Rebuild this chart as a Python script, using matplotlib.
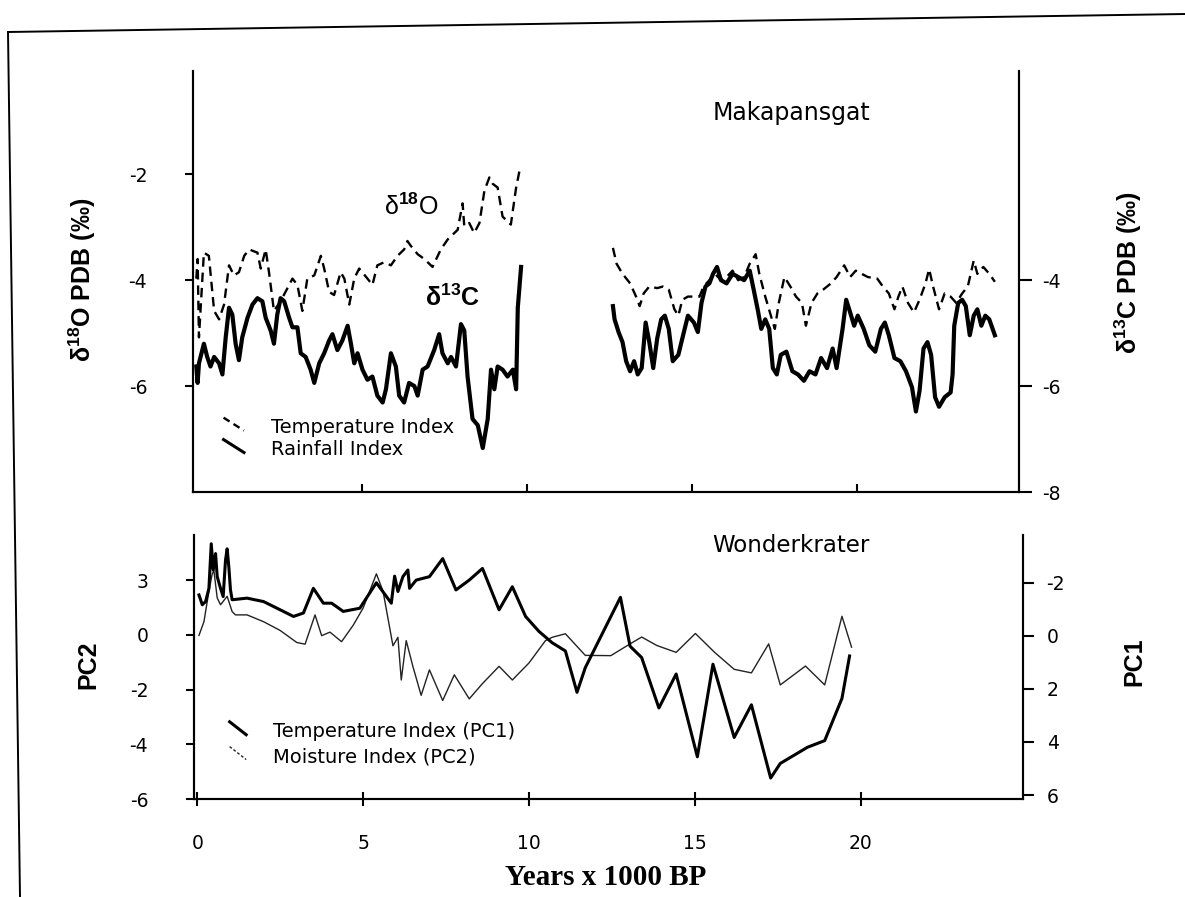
import matplotlib
matplotlib.use('Agg')
import matplotlib.pyplot as plt
from matplotlib.lines import Line2D
from matplotlib.legend_handler import HandlerLine2D

plt.rcParams['axes.unicode_minus'] = False
plt.rcParams['mathtext.fontset'] = 'custom'
plt.rcParams['mathtext.rm'] = 'Liberation Sans'
plt.rcParams['mathtext.bf'] = 'Liberation Sans:bold'
plt.rcParams['font.family'] = 'Liberation Sans'

# Makapansgat, years x 1000 BP and per mil PDB
d18o_left_x = [0.0, 0.04, 0.08, 0.23, 0.38, 0.54, 0.69, 0.84, 0.99, 1.14,
               1.29, 1.45, 1.60, 1.85, 1.95, 2.10, 2.20, 2.35, 2.55, 2.91,
               3.06, 3.21, 3.36, 3.57, 3.77, 3.87, 4.02, 4.17, 4.37, 4.48,
               4.63, 4.78, 4.93, 5.18, 5.33, 5.48, 5.69, 5.89, 6.09, 6.29,
               6.39, 6.49, 6.70, 6.90, 7.15, 7.40, 7.61, 7.91, 8.06, 8.11,
               8.26, 8.41, 8.57, 8.72, 8.87, 8.97, 9.12, 9.27, 9.52, 9.68,
               9.78]
d18o_left = [-3.97, -3.60, -5.08, -3.48, -3.54, -4.58, -4.74, -4.46, -3.72, -3.91,
             -3.85, -3.54, -3.42, -3.48, -3.78, -3.42, -3.85, -4.58, -4.40, -3.97,
             -4.09, -4.58, -3.97, -3.91, -3.54, -3.78, -4.22, -4.28, -3.85, -3.97,
             -4.46, -3.97, -3.78, -3.97, -4.09, -3.72, -3.66, -3.72, -3.54, -3.42,
             -3.26, -3.35, -3.51, -3.60, -3.75, -3.42, -3.23, -3.05, -2.55, -2.98,
             -2.92, -3.11, -2.92, -2.31, -2.06, -2.18, -2.25, -2.80, -2.95, -2.25,
             -1.94]

d13c_left_x = [0.0, 0.04, 0.08, 0.23, 0.33, 0.43, 0.54, 0.69, 0.79, 0.89,
               0.99, 1.09, 1.19, 1.29, 1.39, 1.55, 1.70, 1.85, 2.00, 2.10,
               2.25, 2.35, 2.45, 2.55, 2.66, 2.81, 2.91, 3.06, 3.16, 3.31,
               3.46, 3.57, 3.72, 3.87, 4.02, 4.12, 4.27, 4.42, 4.58, 4.68,
               4.78, 4.88, 5.03, 5.18, 5.33, 5.48, 5.64, 5.74, 5.89, 6.04,
               6.14, 6.29, 6.44, 6.60, 6.70, 6.85, 7.00, 7.20, 7.35, 7.45,
               7.61, 7.71, 7.86, 8.01, 8.11, 8.21, 8.36, 8.52, 8.67, 8.82,
               8.92, 9.02, 9.12, 9.27, 9.42, 9.58, 9.68, 9.73, 9.83]
d13c_left = [-5.63, -5.94, -5.57, -5.20, -5.45, -5.63, -5.45, -5.57, -5.78, -5.08,
             -4.52, -4.65, -5.20, -5.51, -5.08, -4.71, -4.46, -4.34, -4.40, -4.71,
             -4.95, -5.20, -4.65, -4.34, -4.40, -4.71, -4.89, -4.89, -5.38, -5.45,
             -5.69, -5.94, -5.57, -5.38, -5.14, -5.02, -5.32, -5.14, -4.86, -5.20,
             -5.57, -5.38, -5.69, -5.88, -5.82, -6.18, -6.31, -6.06, -5.38, -5.63,
             -6.18, -6.31, -5.94, -6.00, -6.18, -5.69, -5.63, -5.32, -5.02, -5.38,
             -5.57, -5.45, -5.63, -4.83, -4.95, -5.82, -6.62, -6.74, -7.17, -6.62,
             -5.69, -6.06, -5.63, -5.69, -5.82, -5.69, -6.06, -4.52, -3.75]

d18o_right_x = [12.61, 12.72, 12.90, 13.13, 13.31, 13.42, 13.54, 13.71, 13.95, 14.12,
                14.30, 14.47, 14.59, 14.71, 14.88, 15.06, 15.23, 15.35, 15.53, 15.70,
                15.88, 16.05, 16.23, 16.40, 16.58, 16.75, 16.93, 17.04, 17.22, 17.39,
                17.51, 17.63, 17.80, 17.98, 18.15, 18.33, 18.45, 18.62, 18.80, 18.97,
                19.21, 19.38, 19.61, 19.79, 19.96, 20.14, 20.32, 20.61, 20.78, 20.96,
                21.13, 21.25, 21.37, 21.54, 21.72, 21.89, 22.07, 22.18, 22.30, 22.48,
                22.65, 22.83, 23.00, 23.18, 23.35, 23.53, 23.64, 23.82, 24.00, 24.17]
d18o_right = [-3.39, -3.69, -3.88, -4.06, -4.31, -4.49, -4.25, -4.12, -4.15, -4.12,
              -4.18, -4.55, -4.67, -4.37, -4.31, -4.31, -4.31, -4.12, -4.00, -3.88,
              -4.00, -3.94, -3.82, -4.00, -3.94, -3.69, -3.51, -3.88, -4.31, -4.67,
              -4.92, -4.43, -3.94, -4.12, -4.31, -4.43, -4.86, -4.43, -4.25, -4.18,
              -4.06, -3.94, -3.72, -3.94, -3.82, -3.88, -3.94, -3.97, -4.12, -4.25,
              -4.55, -4.31, -4.12, -4.43, -4.61, -4.37, -4.06, -3.79, -4.12, -4.55,
              -4.25, -4.31, -4.43, -4.25, -4.12, -3.63, -3.88, -3.75, -3.88, -4.03]

d13c_right_x = [12.61, 12.66, 12.78, 12.90, 13.01, 13.13, 13.25, 13.36, 13.48, 13.60,
                13.71, 13.83, 13.95, 14.07, 14.18, 14.30, 14.42, 14.59, 14.71, 14.88,
                15.06, 15.18, 15.29, 15.41, 15.53, 15.64, 15.76, 15.88, 16.05, 16.23,
                16.40, 16.58, 16.75, 16.87, 16.99, 17.10, 17.22, 17.34, 17.45, 17.57,
                17.69, 17.86, 18.04, 18.21, 18.39, 18.56, 18.74, 18.91, 19.09, 19.26,
                19.38, 19.56, 19.67, 19.79, 19.91, 20.02, 20.20, 20.37, 20.55, 20.72,
                20.84, 20.96, 21.13, 21.31, 21.48, 21.66, 21.78, 21.89, 22.01, 22.13,
                22.24, 22.36, 22.48, 22.65, 22.83, 22.89, 22.94, 23.06, 23.18, 23.29,
                23.41, 23.53, 23.64, 23.76, 23.88, 24.00, 24.17]
d13c_right = [-4.49, -4.74, -4.98, -5.17, -5.53, -5.72, -5.53, -5.78, -5.66, -4.80,
              -5.17, -5.66, -5.10, -4.74, -4.67, -4.92, -5.53, -5.41, -5.10, -4.67,
              -4.80, -4.98, -4.43, -4.12, -4.06, -3.88, -3.75, -4.00, -4.06, -3.88,
              -3.94, -4.00, -3.82, -4.18, -4.55, -4.92, -4.74, -4.92, -5.66, -5.78,
              -5.41, -5.35, -5.72, -5.78, -5.90, -5.72, -5.78, -5.47, -5.66, -5.29,
              -5.66, -4.92, -4.37, -4.61, -4.86, -4.67, -4.92, -5.23, -5.35, -4.92,
              -4.80, -5.04, -5.47, -5.53, -5.72, -6.02, -6.48, -6.09, -5.29, -5.17,
              -5.41, -6.21, -6.39, -6.21, -6.12, -5.78, -4.86, -4.43, -4.37, -4.49,
              -5.04, -4.67, -4.55, -4.86, -4.67, -4.74, -5.04]

# Wonderkrater principal components
pc1_x = [0.05, 0.15, 0.25, 0.35, 0.42, 0.48, 0.55, 0.60, 0.70, 0.78,
         0.85, 0.90, 0.95, 1.00, 1.05, 1.50, 2.00, 2.50, 2.90, 3.20,
         3.50, 3.80, 4.05, 4.40, 4.90, 5.40, 5.85, 5.95, 6.05, 6.20,
         6.35, 6.40, 6.60, 7.00, 7.40, 7.80, 8.20, 8.60, 9.10, 9.50,
         9.90, 10.30, 10.70, 11.10, 11.45, 11.70, 12.76, 13.05, 13.40, 13.92,
         14.44, 15.08, 15.55, 16.19, 16.71, 17.29, 17.58, 18.40, 18.92, 19.44,
         19.67]
pc1 = [-1.54, -1.17, -1.29, -1.79, -3.47, -2.48, -3.10, -2.23, -1.79, -1.48,
       -2.85, -3.28, -2.60, -1.73, -1.36, -1.42, -1.29, -0.98, -0.73, -0.86,
       -1.79, -1.23, -1.23, -0.92, -1.04, -2.00, -1.23, -2.25, -1.67, -2.23,
       -2.48, -1.79, -2.10, -2.23, -2.91, -1.73, -2.10, -2.54, -0.98, -1.85,
       -0.73, -0.17, 0.26, 0.57, 2.13, 1.20, -1.45, 0.39, 0.82, 2.72,
       1.44, 4.56, 1.07, 3.83, 2.60, 5.36, 4.81, 4.20, 3.95, 2.36,
       0.76]

pc2_x = [0.05, 0.20, 0.35, 0.45, 0.50, 0.60, 0.70, 0.90, 1.05, 1.15,
         1.50, 2.00, 2.50, 3.00, 3.25, 3.55, 3.75, 4.00, 4.35, 4.70,
         5.00, 5.40, 5.60, 5.90, 6.05, 6.15, 6.30, 6.50, 6.75, 7.00,
         7.40, 7.75, 8.20, 8.60, 9.10, 9.50, 10.00, 10.50, 10.70, 11.10,
         11.70, 12.47, 13.05, 13.40, 13.86, 14.44, 15.02, 15.60, 16.19, 16.71,
         17.23, 17.58, 18.34, 18.92, 19.44, 19.73]
pc2 = [-0.02, 0.48, 1.60, 2.23, 2.35, 1.35, 1.10, 1.41, 0.85, 0.73,
       0.73, 0.48, 0.16, -0.28, -0.34, 0.73, -0.03, 0.10, -0.25, 0.35,
       0.98, 2.23, 1.60, -0.40, -0.09, -1.65, -0.21, -1.15, -2.21, -1.28,
       -2.40, -1.46, -2.34, -1.78, -1.15, -1.65, -1.03, -0.21, -0.09, 0.04,
       -0.75, -0.76, -0.33, -0.08, -0.39, -0.64, 0.05, -0.64, -1.26, -1.39,
       -0.33, -1.83, -1.14, -1.83, 0.68, -0.45]

x_ticks = [0, 5, 10, 15, 20]
pc2_ticks = [2, 0, -2, -4, -6]
pc2_labels = ['3', '0', '-2', '-4', '-6']
pc1_ticks = [-2, 0, 2, 4, 6]

TICK_FONT = {'family': 'DejaVu Sans', 'size': 13.5}


class DiagonalHandler(HandlerLine2D):
    # short slanted legend strokes like the original
    def create_artists(self, legend, orig_handle, xdescent, ydescent,
                       width, height, fontsize, trans):
        line = Line2D([-xdescent, width - xdescent],
                      [1.15 * height - ydescent, 0.2 * height - ydescent])
        self.update_prop(line, orig_handle, legend)
        line.set_transform(trans)
        return [line]


def style_ticklabels(ax):
    for lab in ax.get_xticklabels() + ax.get_yticklabels():
        lab.set_fontfamily(TICK_FONT['family'])
        lab.set_fontsize(TICK_FONT['size'])


W, H = 1185, 897
fig = plt.figure(figsize=(W / 100, H / 100), dpi=100)

# scanned page frame
fig.add_artist(Line2D([8 / W, 1.0], [1 - 32 / H, 1 - 14 / H],
                      transform=fig.transFigure, color='black', lw=1.4))
fig.add_artist(Line2D([8 / W, 20 / W], [1 - 32 / H, 0.0],
                      transform=fig.transFigure, color='black', lw=1.4))

# ---- top panel: Makapansgat ----
ax1 = fig.add_axes([193 / W, 1 - 492 / H, 826 / W, 421 / H])
ax1r = ax1.twinx()
for a in (ax1, ax1r):
    a.set_xlim(-0.1, 24.9)
    a.set_ylim(-8, -0.05)
    a.spines['top'].set_visible(False)
    for s in ('left', 'right', 'bottom'):
        a.spines[s].set_linewidth(1.5)

ax1.plot(d18o_left_x, d18o_left, color='black', lw=1.7, dashes=(4, 2.5))
ax1.plot(d18o_right_x, d18o_right, color='black', lw=1.7, dashes=(4, 2.5))
ax1.plot(d13c_left_x, d13c_left, color='black', lw=3.0)
ax1.plot(d13c_right_x, d13c_right, color='black', lw=3.0)

ax1.set_xticks([5, 10, 15, 20])
ax1.tick_params(axis='x', direction='in', length=6, width=1.5, labelbottom=False)
ax1.set_yticks([-2, -4, -6])
ax1.tick_params(axis='y', direction='out', length=6, width=1.5, pad=27)
ax1r.set_yticks([-4, -6, -8])
ax1r.tick_params(axis='y', direction='out', length=9, width=1.5, pad=8)
style_ticklabels(ax1)
style_ticklabels(ax1r)

ax1.text(18.0, -0.84, 'Makapansgat', family='DejaVu Sans', fontsize=17,
         ha='center', va='center')
ax1.text(6.5, -2.62, 'δ$^{\\bf 18}$O', fontsize=18, ha='center', va='center')
ax1.text(7.76, -4.34, 'δ$^{\\bf 13}$C', fontsize=18, fontweight='bold',
         ha='center', va='center')

h_temp = Line2D([], [], color='black', lw=1.7, dashes=(3, 2))
h_rain = Line2D([], [], color='black', lw=2.2)
ax1.legend([h_temp, h_rain], ['Temperature Index', 'Rainfall Index'],
           handler_map={Line2D: DiagonalHandler()},
           loc='upper left', bbox_to_anchor=(0.037, 0.175), frameon=False,
           prop={'family': 'DejaVu Sans', 'size': 14},
           handlelength=1.05, handletextpad=1.4, labelspacing=0.15,
           borderpad=0, borderaxespad=0)

# ---- bottom panel: Wonderkrater ----
ax2 = fig.add_axes([194 / W, 1 - 799 / H, 829 / W, 264 / H])
ax2r = ax2.twinx()
for a in (ax2, ax2r):
    a.set_xlim(-0.1, 24.9)
    a.spines['top'].set_visible(False)
    for s in ('left', 'right', 'bottom'):
        a.spines[s].set_linewidth(1.5)
ax2.set_ylim(-6, 3.65)
ax2r.set_ylim(6.15, -3.8)

ax2.plot(pc2_x, pc2, color='#222222', lw=1.0)
ax2r.plot(pc1_x, pc1, color='black', lw=2.2)

ax2.set_xticks(x_ticks)
ax2.set_xticklabels([str(t) for t in x_ticks])
ax2.tick_params(axis='x', direction='inout', length=10, width=1.5, pad=20)
ax2.set_yticks(pc2_ticks)
ax2.set_yticklabels(pc2_labels)
ax2.tick_params(axis='y', direction='out', length=6, width=1.5, pad=27)
ax2r.set_yticks(pc1_ticks)
ax2r.tick_params(axis='y', direction='out', length=8, width=1.5, pad=9)
style_ticklabels(ax2)
style_ticklabels(ax2r)

ax2.text(17.9, 3.25, 'Wonderkrater', family='DejaVu Sans', fontsize=16.5,
         ha='center', va='center')

h_pc1 = Line2D([], [], color='black', lw=2.2)
h_pc2 = Line2D([], [], color='#222222', lw=1.0, dashes=(2, 1.5))
ax2r.legend([h_pc1, h_pc2], ['Temperature Index (PC1)', 'Moisture Index (PC2)'],
            handler_map={Line2D: DiagonalHandler()},
            loc='upper left', bbox_to_anchor=(0.043, 0.29), frameon=False,
            prop={'family': 'DejaVu Sans', 'size': 14},
            handlelength=0.85, handletextpad=1.4, labelspacing=0.3,
            borderpad=0, borderaxespad=0)

# axis titles
fig.text(82 / W, 1 - 280 / H, 'δ$^{\\bf 18}$O PDB (‰)', rotation=90,
         fontsize=18, fontweight='bold', ha='center', va='center')
fig.text(1128 / W, 1 - 273 / H, 'δ$^{\\bf 13}$C PDB (‰)', rotation=90,
         fontsize=18, fontweight='bold', ha='center', va='center')
fig.text(88 / W, 1 - 665 / H, 'PC2', rotation=90,
         fontsize=18, fontweight='bold', ha='center', va='center')
fig.text(1134 / W, 1 - 662 / H, 'PC1', rotation=90,
         fontsize=18, fontweight='bold', ha='center', va='center')
fig.text(606 / W, 1 - 877 / H, 'Years x 1000 BP', family='Liberation Serif',
         fontsize=21, fontweight='bold', ha='center', va='center')

fig.savefig('out.png', dpi=100)
